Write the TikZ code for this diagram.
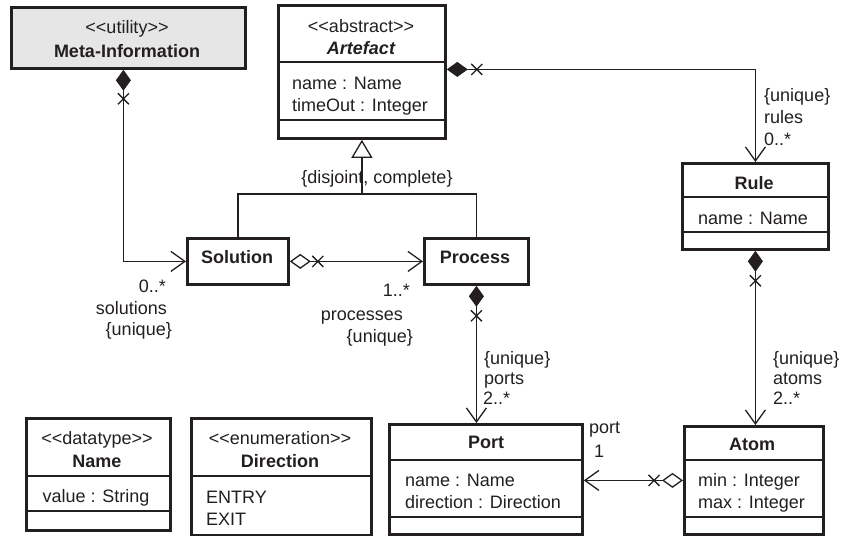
\documentclass[tikz,border=0pt]{standalone}
\usepackage{fontspec}
\setmainfont{Liberation Sans}
% a family without TeX ligature mapping, so that << and >> stay as typed
\newfontfamily\umlfont{Liberation Sans}
\usetikzlibrary{arrows.meta,calc}

\definecolor{utilgray}{HTML}{E6E6E6}
\definecolor{ink}{HTML}{231F20}

\tikzset{
  classbox/.style={draw=ink, line width=2.8pt, inner sep=0pt, anchor=north west},
  divider/.style={draw=ink, line width=1.3pt},
  assoc/.style={draw=ink, line width=1.3pt},
  txt/.style={inner sep=0pt, text=ink, font=\umlfont\fontsize{18}{21}\selectfont},
  ctr/.style={txt, anchor=base},
  lft/.style={txt, anchor=base west},
  rgt/.style={txt, anchor=base east},
  cname/.style={ctr, font=\umlfont\fontsize{18}{21}\selectfont\bfseries},
  filledend/.style={{Diamond[length=21pt,width=15pt]}-{Straight Barb[length=14pt,width=20pt]}},
  openend/.style={{Diamond[open,length=21pt,width=15pt]}-{Straight Barb[length=14pt,width=20pt]}},
  xcross/.pic={\draw[ink, line width=1.3pt] (-5.5,-5.5) -- (5.5,5.5) (-5.5,5.5) -- (5.5,-5.5);}
}

\begin{document}
\begin{tikzpicture}[x=1pt,y=-1pt]
\useasboundingbox (0,0) rectangle (842,535);

% ---- class boxes ----
\node[classbox, fill=utilgray, minimum width=234pt, minimum height=61pt] (meta) at (10,6) {};
\node[classbox, minimum width=167pt, minimum height=133pt] (art) at (277,4) {};
\node[classbox, minimum width=146pt, minimum height=86pt] (rule) at (681,162) {};
\node[classbox, minimum width=101pt, minimum height=46pt] (sol) at (186,237) {};
\node[classbox, minimum width=104pt, minimum height=46pt] (proc) at (423,237) {};
\node[classbox, minimum width=193pt, minimum height=110pt] (port) at (388,423) {};
\node[classbox, minimum width=139pt, minimum height=108pt] (atom) at (683,425) {};
\node[classbox, minimum width=144pt, minimum height=112pt] (name) at (25,417) {};
\node[classbox, minimum width=180pt, minimum height=117pt] (dir) at (190,417) {};

% ---- compartment dividers ----
\draw[divider] ([yshift=-58pt]art.north west) -- ([yshift=-58pt]art.north east);
\draw[divider] ([yshift=-116pt]art.north west) -- ([yshift=-116pt]art.north east);
\draw[divider] ([yshift=-35pt]rule.north west) -- ([yshift=-35pt]rule.north east);
\draw[divider] ([yshift=-70pt]rule.north west) -- ([yshift=-70pt]rule.north east);
\draw[divider] ([yshift=-37pt]port.north west) -- ([yshift=-37pt]port.north east);
\draw[divider] ([yshift=-94pt]port.north west) -- ([yshift=-94pt]port.north east);
\draw[divider] ([yshift=-35pt]atom.north west) -- ([yshift=-35pt]atom.north east);
\draw[divider] ([yshift=-92pt]atom.north west) -- ([yshift=-92pt]atom.north east);
\draw[divider] ([yshift=-59pt]name.north west) -- ([yshift=-59pt]name.north east);
\draw[divider] ([yshift=-94pt]name.north west) -- ([yshift=-94pt]name.north east);
\draw[divider] ([yshift=-59pt]dir.north west) -- ([yshift=-59pt]dir.north east);

% ---- class texts ----
\node[ctr] (metaSt) at (127,34) {<<utility>>};
\node[cname] (metaNm) at (127,58) {Meta-Information};

\node[ctr] (artSt) at (361,33) {<<abstract>>};
\node[cname, font=\umlfont\fontsize{18}{21}\selectfont\bfseries\itshape] (artNm) at (361,54) {Artefact};
\node[lft] (artA1) at (292,89) {name : Name};
\node[lft] (artA2) at (292,111) {timeOut : Integer};

\node[cname] (ruleNm) at (754,189) {Rule};
\node[ctr] (ruleA1) at (753,224) {name : Name};

\node[cname] (solNm) at (237,263) {Solution};
\node[cname] (procNm) at (475,263) {Process};

\node[cname] (portNm) at (486,448) {Port};
\node[lft] (portA1) at (405,486) {name : Name};
\node[lft] (portA2) at (405,508) {direction : Direction};

\node[cname] (atomNm) at (752,450) {Atom};
\node[lft] (atomA1) at (698,486) {min : Integer};
\node[lft] (atomA2) at (698,508) {max : Integer};

\node[ctr] (nameSt) at (97,444) {<<datatype>>};
\node[cname] (nameNm) at (97,467) {Name};
\node[ctr] (nameA1) at (96,502) {value : String};

\node[ctr] (dirSt) at (280,444) {<<enumeration>>};
\node[cname] (dirNm) at (280,467) {Direction};
\node[lft] (dirL1) at (206,503) {ENTRY};
\node[lft] (dirL2) at (206,525) {EXIT};

% ---- generalization ----
\node[ctr] (gset) at (377,183) {\{disjoint, complete\}};
\coordinate (gbar) at (0,194);
\draw[assoc] (sol.north) |- (gbar -| art.south) -| (proc.north);
\draw[assoc, -{Triangle[open,length=18pt,width=21pt]}] (gbar -| art.south) -- (art.south);

% ---- associations ----
\draw[assoc, filledend] ([yshift=2.5pt]art.east) -| (rule.north);
\pic at ([xshift=30pt,yshift=2.5pt]art.east) {xcross};

\draw[assoc, filledend] ([xshift=-5pt]meta.south) |- (sol.west);
\pic at ([xshift=-5pt,yshift=-29pt]meta.south) {xcross};

\draw[assoc, openend] (sol.east) -- (proc.west);
\pic at ([xshift=28pt]sol.east) {xcross};

\draw[assoc, filledend] (proc.south) -- (proc.south |- port.north);
\pic at ([yshift=-30pt]proc.south) {xcross};

\draw[assoc, filledend] (rule.south) -- (rule.south |- atom.north);
\pic at ([yshift=-30pt]rule.south) {xcross};

\draw[assoc, openend] (atom.west) -- (atom.west -| port.east);
\pic at ([xshift=-29pt]atom.west) {xcross};

% ---- association end labels ----
\node[lft] (rU) at (764,101) {\{unique\}};
\node[lft] (rR) at (764,123) {rules};
\node[lft] (rM) at (764,145) {0..*};

\node[rgt] (sM) at (166,292) {0..*};
\node[rgt] (sR) at (167,314) {solutions};
\node[rgt] (sU) at (172,335) {\{unique\}};

\node[rgt] (pM) at (410,296) {1..*};
\node[rgt] (pR) at (403,320) {processes};
\node[rgt] (pU) at (413,342) {\{unique\}};

\node[lft] (oU) at (484,364) {\{unique\}};
\node[lft] (oR) at (484,384) {ports};
\node[lft] (oM) at (483,404) {2..*};

\node[lft] (aU) at (773,364) {\{unique\}};
\node[lft] (aR) at (773,384) {atoms};
\node[lft] (aM) at (773,404) {2..*};

\node[lft] (tR) at (589,433) {port};
\node[lft] (tM) at (594,457) {1};
\end{tikzpicture}
\end{document}
